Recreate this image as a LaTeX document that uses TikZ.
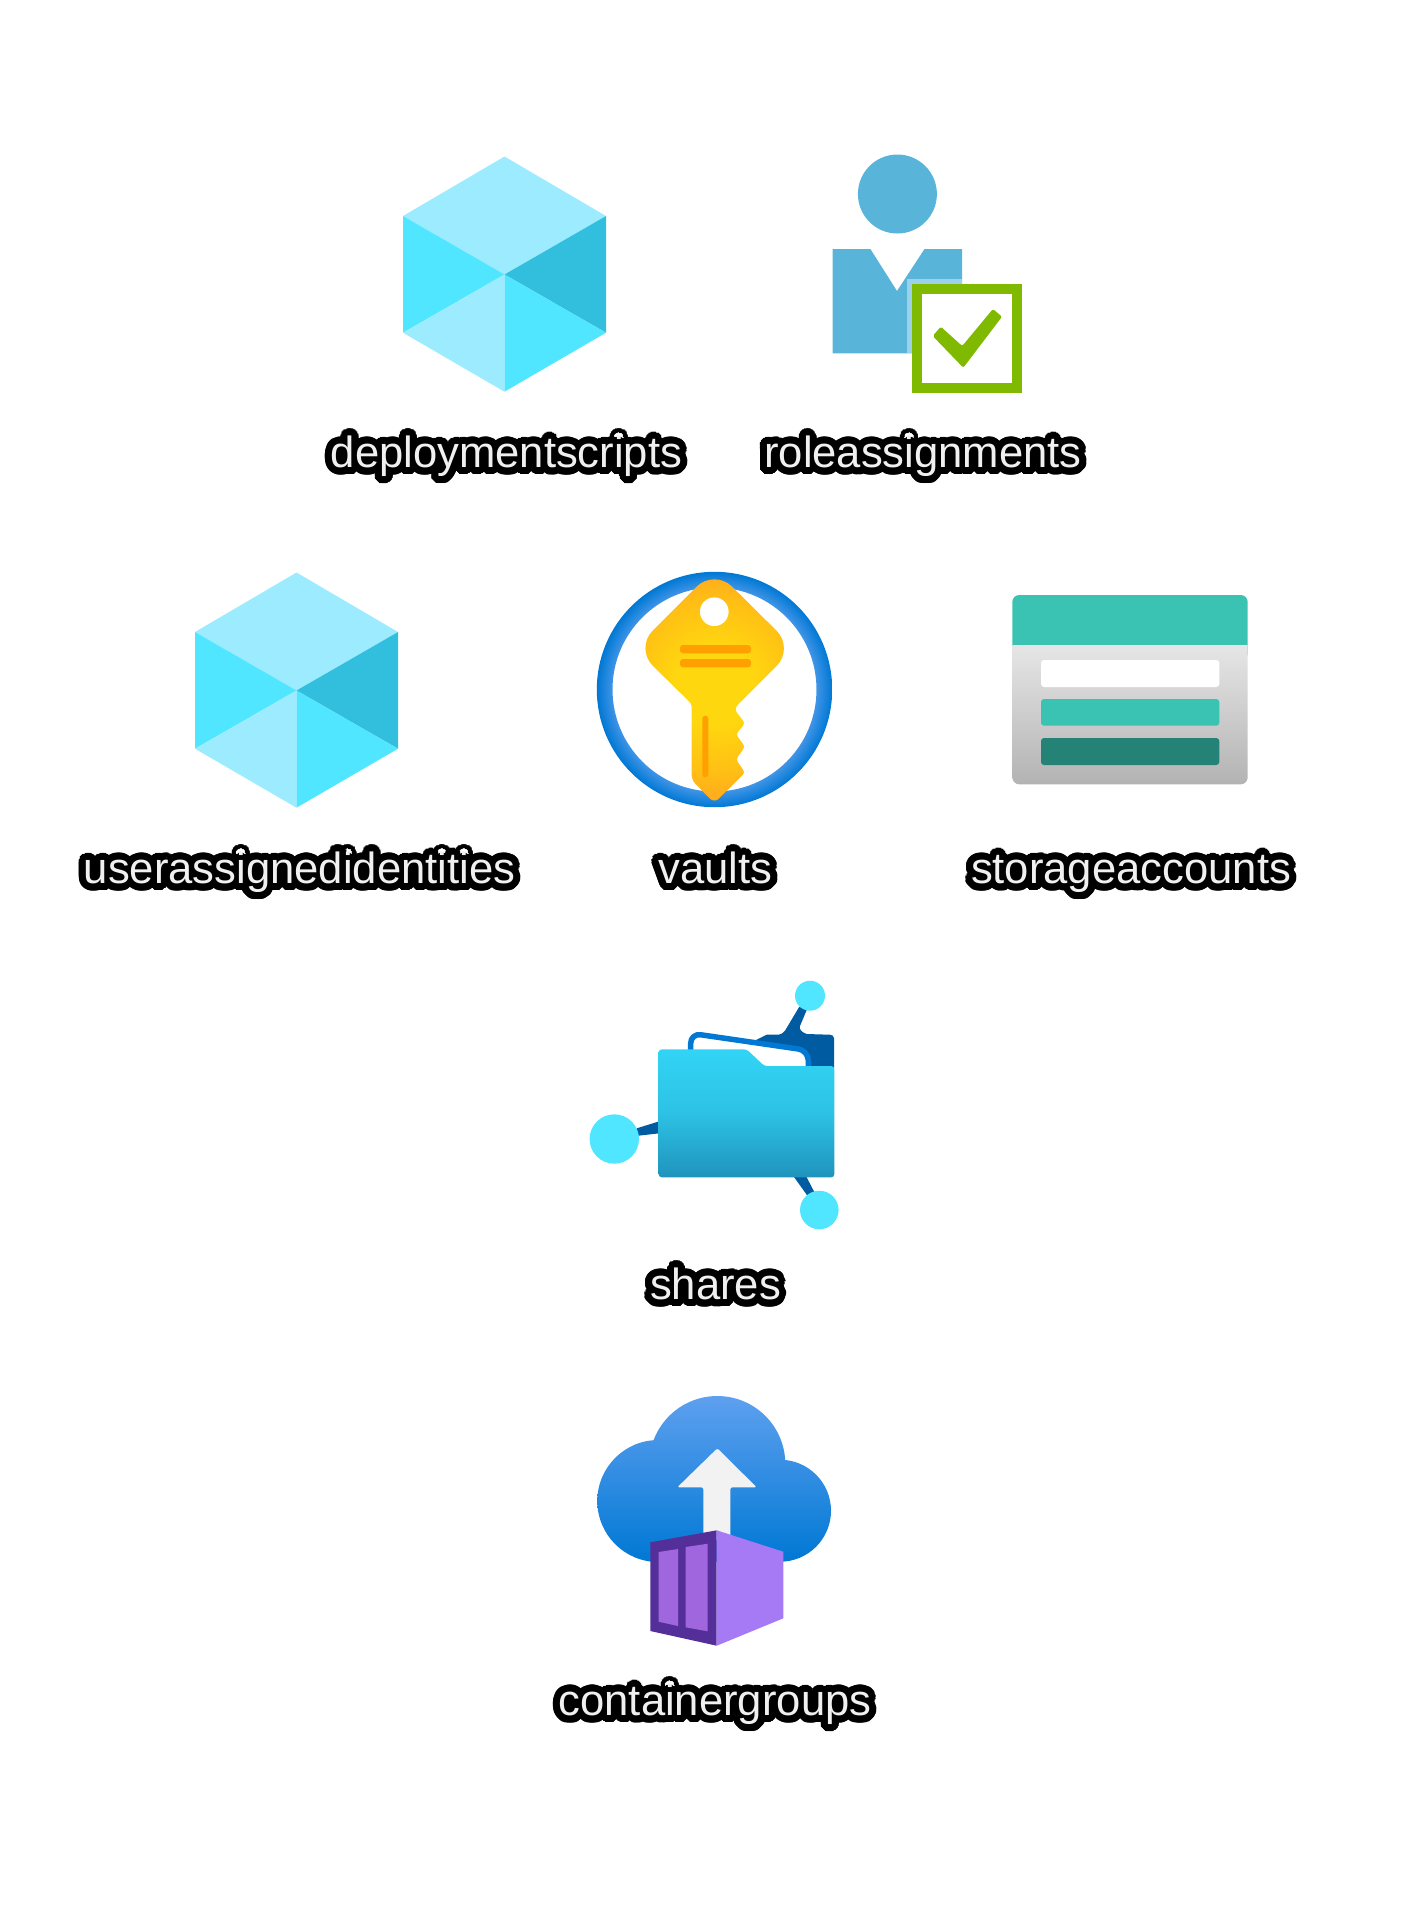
\documentclass[tikz,border=0pt]{standalone}
\usepackage{fontspec}
\usepackage{contour}
\setmainfont{Liberation Sans}
\contournumber{32}
\contourlength{0.07cm}
\definecolor{hexlight}{HTML}{9CEBFF}
\definecolor{hexmid}{HTML}{50E6FF}
\definecolor{hexdark}{HTML}{32BEDD}
\definecolor{roleblue}{HTML}{59B4D9}
\definecolor{rolegreen}{HTML}{7FBA00}
\definecolor{ringout}{HTML}{0078D4}
\definecolor{ringin}{HTML}{3F94E6}
\definecolor{keyyellow}{HTML}{FFD70F}
\definecolor{keyamber}{HTML}{FFC014}
\definecolor{keyorange}{HTML}{FFA81F}
\definecolor{keybar}{HTML}{FFA000}
\definecolor{storeteal}{HTML}{3AC2B2}
\definecolor{storedark}{HTML}{258277}
\definecolor{storetop}{HTML}{E6E6E6}
\definecolor{storebottom}{HTML}{B3B3B3}
\definecolor{sharedark}{HTML}{005BA1}
\definecolor{sharepage}{HTML}{0078D4}
\definecolor{foldertop}{HTML}{32D4F5}
\definecolor{folderbottom}{HTML}{1F93BC}
\definecolor{cloudtop}{HTML}{5EA0EF}
\definecolor{cloudbottom}{HTML}{0078D4}
\definecolor{arrowgray}{HTML}{F2F2F2}
\definecolor{boxdark}{HTML}{552F99}
\definecolor{boxlight}{HTML}{A67AF4}
\definecolor{boxwin}{HTML}{A066DD}
\definecolor{labelgray}{HTML}{F0F0F0}
\pgfdeclareradialshading{ringglow}{\pgfpoint{0bp}{0bp}}{color(0bp)=(ringin); color(21.7bp)=(ringin); color(25bp)=(ringout); color(50bp)=(ringout)}
\pgfdeclareradialshading{keyglow}{\pgfpoint{0bp}{0bp}}{color(0bp)=(keyyellow); color(8bp)=(keyyellow); color(18bp)=(keyamber); color(25bp)=(keyorange); color(50bp)=(keyorange)}
\tikzset{
  iconlabel/.style={anchor=base, font=\fontsize{12.4}{15}\selectfont, text=labelgray, inner sep=0pt, outer sep=0pt},
  keybarfill/.style={fill=keybar, rounded corners=0.03cm},
  storebar/.style={rounded corners=0.03cm}
}
\newcommand{\iconname}[1]{\contour{black}{#1}}
\begin{document}
\begin{tikzpicture}[x=0.01cm,y=-0.01cm]
\useasboundingbox (0,0) rectangle (1420,1908);

\foreach \hx/\hy in {504.5/0, 296.5/416}{
\begin{scope}[shift={(\hx,\hy)}]
\fill[hexlight] (0,156.5) -- (101.5,216) -- (0,274.5) -- (-101.5,216) -- cycle;
\fill[hexmid] (-101.5,216) -- (0,274.5) -- (-101.5,332.7) -- cycle;
\fill[hexdark] (101.5,216) -- (101.5,332.7) -- (0,274.5) -- cycle;
\fill[hexlight] (-101.5,332.7) -- (0,274.5) -- (0,391.7) -- cycle;
\fill[hexmid] (0,274.5) -- (101.5,332.7) -- (0,391.7) -- cycle;
\end{scope}
}

\fill[roleblue] (897.4,194) circle (39.5);
\fill[roleblue] (832.7,249) -- (870.4,249) -- (897,291) -- (924.5,249) -- (962.2,249) -- (962.2,353.3) -- (832.7,353.3) -- cycle;
\fill[white, opacity=0.4] (907,279) rectangle (962.2,353.3);
\fill[rolegreen] (912.2,284) rectangle (1022,393.3);
\fill[white] (922.4,294) rectangle (1012,383.3);
\fill[rolegreen, rounded corners=0.02cm] (932.7,336) -- (940.8,326.7) -- (962.2,346) -- (992.9,309) -- (1002,316.7) -- (963.3,367.7) -- cycle;

\path[even odd rule, shading=ringglow] (714.5,689.5) circle (117.7) (714.5,689.5) circle (102);
\path[shading=keyglow] (597,686) (832,686) (714.3,569) [rounded corners=0.25cm] -- (794.3,648.3) [rounded corners=0.03cm] -- (736,706.7) -- (735,710) -- (745,723.3) -- (736,734.3) -- (745,746.7) -- (736,759.3) -- (745,772.7) [rounded corners=0.06cm] -- (714.3,803) [rounded corners=0.05cm] -- (691.7,780) [rounded corners=0.03cm] -- (691.7,704) [rounded corners=0.25cm] -- (635,648.3) -- cycle;
\fill[white] (714.3,611.7) circle (14.3);
\fill[keybarfill] (680,645) rectangle (751,653.3);
\fill[keybarfill] (680,659) rectangle (751,667.3);
\fill[keybarfill] (702.3,715.7) rectangle (708.3,777.3);

\fill[storeteal, rounded corners=0.07cm] (1012.3,595) rectangle (1247.7,660);
\path[shade, top color=storetop, bottom color=storebottom] (1012.3,645) -- (1247.7,645) [rounded corners=0.07cm] -- (1247.7,784.3) -- (1012.3,784.3) [sharp corners] -- cycle;
\fill[white, storebar] (1041,660) rectangle (1219.3,687);
\fill[storeteal, storebar] (1041,699) rectangle (1219.3,725.7);
\fill[storedark, storebar] (1041,738) rectangle (1219.3,765);

\fill[sharedark] (636.7,1128.3) -- (659.3,1121.3) -- (659.3,1133.3) -- (638.3,1135.7) -- cycle;
\fill[sharedark] (793.3,1176) -- (806,1176) -- (815,1193.3) -- (809.3,1198.3) -- cycle;
\fill[sharedark] (799.3,1006.7) -- (785,1030.7) .. controls (782,1034) and (780,1034.7) .. (778.3,1034.7) -- (766.7,1034.7) -- (756,1040) -- (790,1068) -- (834,1068) -- (834,1038) .. controls (834,1036) and (832,1034.7) .. (830,1034.7) -- (806.7,1034) .. controls (801,1032) and (799,1029) .. (800,1026) -- (806.7,1010) -- cycle;
\fill[white] (690.7,1055) -- (690.7,1035) -- (806,1050) -- (808.3,1070) -- cycle;
\draw[sharepage, line width=0.055cm, rounded corners=0.1cm] (690.7,1055) -- (690.7,1033.3) -- (808.3,1050.4) -- (808.3,1070);
\path[shade, top color=foldertop, bottom color=folderbottom, middle color=foldertop!72!folderbottom, rounded corners=0.03cm] (658.7,1049.3) -- (746.7,1049.3) -- (764.3,1066) -- (834.3,1066) -- (834.3,1177.3) -- (658.7,1177.3) -- cycle;
\fill[hexmid] (810,995.7) circle (15);
\fill[hexmid] (614.3,1139) circle (24.7);
\fill[hexmid] (819.3,1210) circle (19.3);

\foreach \cx/\cy/\cr in {717.3/1464/68, 658.3/1501/61, 780/1510.7/51}{
\begin{scope}
\clip (\cx,\cy) circle (\cr);
\path[shade, top color=cloudtop, bottom color=cloudbottom] (590,1396) rectangle (840,1561.7);
\end{scope}
}
\begin{scope}
\clip (658,1470) rectangle (780,1561.7);
\path[shade, top color=cloudtop, bottom color=cloudbottom] (590,1396) rectangle (840,1561.7);
\end{scope}
\fill[arrowgray, rounded corners=0.02cm] (717.3,1448.3) -- (756.7,1487.3) -- (730.3,1487.3) -- (730.3,1540) -- (703.3,1540) -- (703.3,1487.3) -- (677.3,1487.3) -- cycle;
\fill[boxdark] (650.3,1542.3) -- (716.7,1530.3) -- (716.7,1645.7) -- (650.3,1631) -- cycle;
\fill[boxlight] (716.7,1530.3) -- (783.3,1551.7) -- (783.3,1618.3) -- (716.7,1645.7) -- cycle;
\fill[boxwin] (658.7,1552) -- (678,1549) -- (678,1626) -- (658.7,1621.7) -- cycle;
\fill[boxwin] (685.7,1547) -- (707.7,1543.7) -- (707.7,1631.3) -- (685.7,1627.3) -- cycle;

\node[iconlabel] (deploymentscripts) at (506.5,467.7) {\iconname{deploymentscripts}};
\node[iconlabel] (roleassignments) at (923,467.7) {\iconname{roleassignments}};
\node[iconlabel] (userassignedidentities) at (299.5,883.7) {\iconname{userassignedidentities}};
\node[iconlabel] (vaults) at (715.5,883.7) {\iconname{vaults}};
\node[iconlabel] (storageaccounts) at (1131,883.7) {\iconname{storageaccounts}};
\node[iconlabel] (shares) at (715.5,1299.7) {\iconname{shares}};
\node[iconlabel] (containergroups) at (715,1715.7) {\iconname{containergroups}};
\end{tikzpicture}
\end{document}
